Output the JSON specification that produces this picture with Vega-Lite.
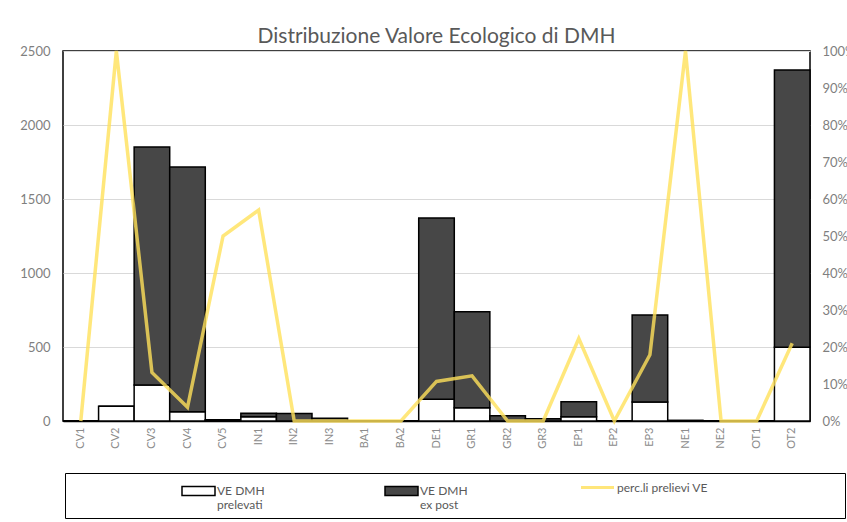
{
  "$schema": "https://vega.github.io/schema/vega-lite/v6.json",
  "width": 747,
  "height": 370,
  "autosize": {"type": "none"},
  "padding": {"left": 63, "top": 51, "right": 37, "bottom": 101},
  "background": "white",
  "title": {
    "text": "Distribuzione Valore Ecologico di DMH",
    "font": "Lato",
    "fontSize": 21,
    "fontWeight": "normal",
    "color": "#595959",
    "anchor": "middle",
    "offset": -3
  },
  "data": {
    "values": [
      {"cat": "CV1", "prelevati": 0, "expost": 0, "perc": 0},
      {"cat": "CV2", "prelevati": 100, "expost": 0, "perc": 1.0},
      {"cat": "CV3", "prelevati": 243, "expost": 1608, "perc": 0.131},
      {"cat": "CV4", "prelevati": 63, "expost": 1653, "perc": 0.037},
      {"cat": "CV5", "prelevati": 4, "expost": 4, "perc": 0.5},
      {"cat": "IN1", "prelevati": 28, "expost": 24, "perc": 0.57},
      {"cat": "IN2", "prelevati": 0, "expost": 50, "perc": 0},
      {"cat": "IN3", "prelevati": 0, "expost": 18, "perc": 0},
      {"cat": "BA1", "prelevati": 0, "expost": 0, "perc": 0},
      {"cat": "BA2", "prelevati": 0, "expost": 0, "perc": 0},
      {"cat": "DE1", "prelevati": 147, "expost": 1225, "perc": 0.107},
      {"cat": "GR1", "prelevati": 90, "expost": 649, "perc": 0.122},
      {"cat": "GR2", "prelevati": 0, "expost": 36, "perc": 0},
      {"cat": "GR3", "prelevati": 0, "expost": 16, "perc": 0},
      {"cat": "EP1", "prelevati": 29, "expost": 101, "perc": 0.223},
      {"cat": "EP2", "prelevati": 0, "expost": 0, "perc": 0},
      {"cat": "EP3", "prelevati": 128, "expost": 588, "perc": 0.179},
      {"cat": "NE1", "prelevati": 4, "expost": 0, "perc": 1.0},
      {"cat": "NE2", "prelevati": 0, "expost": 0, "perc": 0},
      {"cat": "OT1", "prelevati": 0, "expost": 0, "perc": 0},
      {"cat": "OT2", "prelevati": 498, "expost": 1874, "perc": 0.21}
    ]
  },
  "encoding": {
    "x": {
      "field": "cat",
      "type": "nominal",
      "sort": null,
      "scale": {"paddingInner": 0, "paddingOuter": 0},
      "axis": {
        "title": null,
        "labelAngle": 270,
        "labelFont": "Lato",
        "labelFontSize": 11,
        "labelColor": "#8c8c8c",
        "labelPadding": 6,
        "ticks": false,
        "domainColor": "#000",
        "domainWidth": 1.5
      }
    }
  },
  "layer": [
    {
      "transform": [{"fold": ["prelevati", "expost"], "as": ["serie", "val"]}],
      "mark": {"type": "bar", "stroke": "#000", "strokeWidth": 1.5},
      "encoding": {
        "y": {
          "field": "val",
          "type": "quantitative",
          "stack": "zero",
          "scale": {"domain": [0, 2500], "nice": false},
          "axis": {
            "title": null,
            "format": "d",
            "values": [0, 500, 1000, 1500, 2000, 2500],
            "labelFont": "Lato",
            "labelFontSize": 13,
            "labelColor": "#7f7f7f",
            "labelPadding": 13,
            "ticks": false,
            "domain": false,
            "gridColor": "#d9d9d9",
            "gridWidth": 1
          }
        },
        "color": {
          "field": "serie",
          "type": "nominal",
          "scale": {
            "domain": ["prelevati", "expost"],
            "range": ["#ffffff", "#474747"]
          },
          "legend": {
            "title": "\u00a0",
            "titleOrient": "right",
            "titlePadding": 370,
            "orient": "none",
            "legendX": 2,
            "legendY": 422,
            "direction": "horizontal",
            "columns": 2,
            "gridAlign": "all",
            "columnPadding": 10,
            "symbolOffset": 115.5,
            "symbolSize": 400,
            "symbolType": "M-1.65,-0.45H1.65V0.45H-1.65Z",
            "symbolStrokeColor": "#000",
            "symbolStrokeWidth": 1.5,
            "labelOffset": 7.5,
            "labelFont": "Lato",
            "labelFontSize": 12,
            "labelColor": "#595959",
            "labelExpr": "datum.value == 'prelevati' ? ['VE DMH', 'prelevati'] : ['VE DMH', 'ex post']",
            "padding": 7,
            "strokeColor": "#000"
          }
        },
        "order": {"field": "serie", "sort": "descending"}
      }
    },
    {
      "mark": {"type": "line", "strokeWidth": 3.5, "opacity": 0.8},
      "encoding": {
        "y": {
          "field": "perc",
          "type": "quantitative",
          "scale": {"domain": [0, 1], "nice": false},
          "axis": {
            "title": null,
            "orient": "right",
            "format": ".0%",
            "values": [0, 0.1, 0.2, 0.3, 0.4, 0.5, 0.6, 0.7, 0.8, 0.9, 1],
            "labelFont": "Lato",
            "labelFontSize": 13,
            "labelColor": "#7f7f7f",
            "labelPadding": 12,
            "ticks": false,
            "domain": false,
            "grid": false
          }
        },
        "stroke": {
          "datum": "perc.li prelievi VE",
          "type": "nominal",
          "scale": {"range": ["#FFE15A"]},
          "legend": {
            "title": null,
            "orient": "none",
            "legendX": 518,
            "legendY": 420,
            "symbolType": "M-1.65,0H1.65",
            "symbolSize": 400,
            "symbolStrokeWidth": 3,
            "labelOffset": 8,
            "labelFont": "Lato",
            "labelFontSize": 12,
            "labelColor": "#595959",
            "padding": 5
          }
        }
      }
    }
  ],
  "resolve": {"scale": {"y": "independent"}},
  "config": {"view": {"stroke": "#000", "strokeWidth": 1.5}}
}
